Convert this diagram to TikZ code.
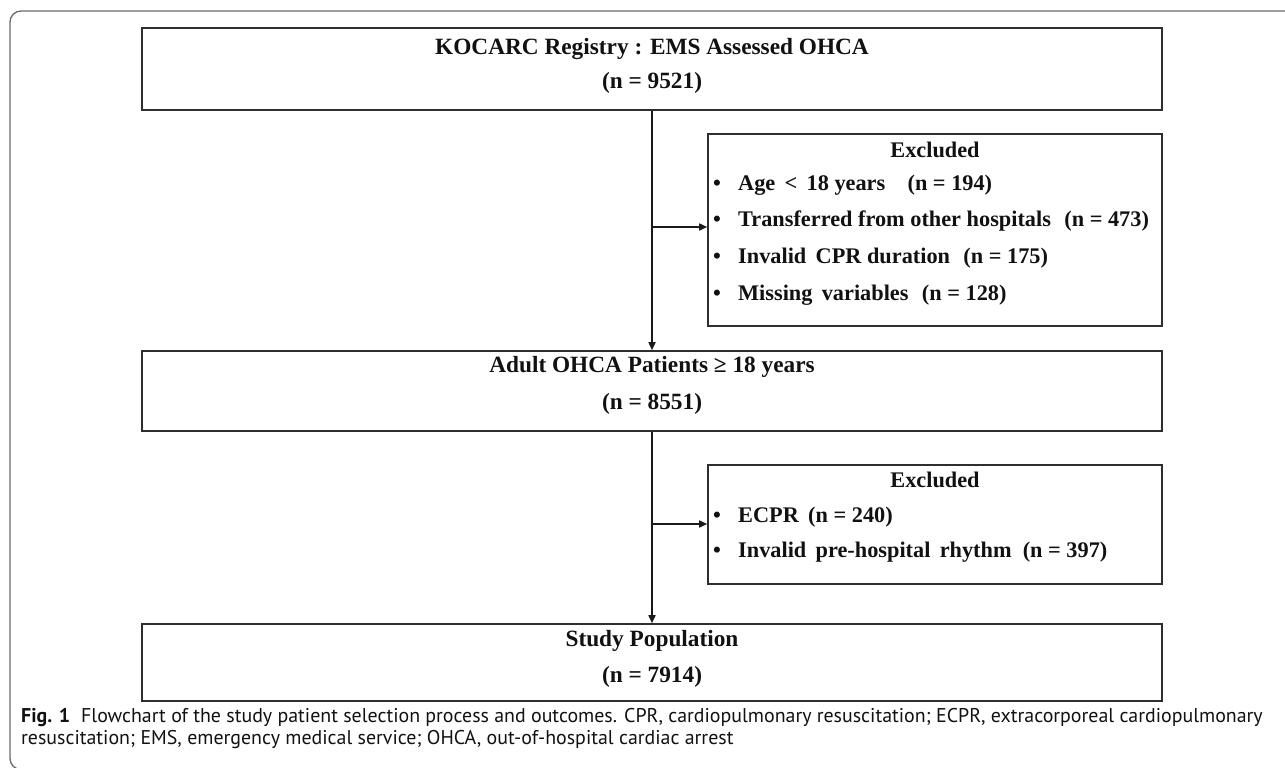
\documentclass[tikz,border=0pt]{standalone}
\usepackage{fontspec}
\setmainfont{Liberation Serif}
\newfontfamily\capfont{PT Sans}
\usetikzlibrary{arrows.meta,calc}
\definecolor{boxc}{HTML}{2E2E2E}
\definecolor{linec}{HTML}{1A1A1A}
\definecolor{txtc}{HTML}{111111}
\definecolor{framec}{HTML}{6A6A6A}
\begin{document}
\begin{tikzpicture}[x=1pt,y=-1pt,
  box/.style={draw=boxc, line width=1.6pt, inner sep=0pt},
  ttl/.style={font=\fontsize{23.3}{27}\selectfont\bfseries, text=txtc, inner sep=0pt},
  exttl/.style={font=\fontsize{22.3}{26}\selectfont\bfseries, text=txtc, inner sep=0pt},
  itm/.style={font=\fontsize{22.3}{26}\selectfont\bfseries, text=txtc, inner sep=0pt, anchor=west},
  conn/.style={line width=1.6pt, draw=linec, -{Triangle[length=8pt,width=7pt]}},
  captxt/.style={font=\capfont\fontsize{19.9}{23}\selectfont, text=txtc, inner sep=0pt, anchor=west},
]
\useasboundingbox (0,0) rectangle (1285,768);
% outer frame
\draw[framec, line width=1.3pt, rounded corners=11pt] (1300,11) -- (10,11) -- (10,769.5) -- (1300,769.5);

% main boxes
\node[box, minimum width=1020pt, minimum height=82pt] (b1) at (652,69) {};
\node[box, minimum width=1020pt, minimum height=80pt] (b2) at (652,391) {};
\node[box, minimum width=1020pt, minimum height=77pt] (b3) at (652,662.5) {};
% exclusion boxes
\node[box, minimum width=454pt, minimum height=192pt] (e1) at (935,230) {};
\node[box, minimum width=454pt, minimum height=119pt] (e2) at (935,524.5) {};

% texts main
\node[ttl] (t1a) at (652,49) {KOCARC Registry : EMS Assessed OHCA};
\node[ttl] (t1b) at (652,83) {(n = 9521)};
\node[ttl] (t2a) at (652,367) {Adult OHCA Patients ≥ 18 years};
\node[ttl] (t2b) at (652,404) {(n = 8551)};
\node[ttl] (t3a) at (652,641) {Study Population};
\node[ttl] (t3b) at (652,677) {(n = 7914)};

% exclusion texts
\node[exttl] (x1) at (935,150) {Excluded};
\node[itm] (x1a) at (713,185) {\makebox[25pt][l]{•}Age \,<\, 18 years\quad (n = 194)};
\node[itm] (x1b) at (713,221) {\makebox[25pt][l]{•}Transferred from other hospitals\hspace{0.6em}(n = 473)};
\node[itm] (x1c) at (713,258) {\makebox[25pt][l]{•}Invalid\, CPR duration\hspace{0.6em}(n = 175)};
\node[itm] (x1d) at (713,295) {\makebox[25pt][l]{•}Missing\, variables\hspace{0.6em}(n = 128)};
\node[exttl] (x2) at (935,480) {Excluded};
\node[itm] (x2a) at (713,517) {\makebox[25pt][l]{•}ECPR\, (n = 240)};
\node[itm] (x2b) at (713,552) {\makebox[25pt][l]{•}Invalid\, pre-hospital\, rhythm\hspace{0.5em}(n = 397)};

% connectors
\coordinate (j1) at (b1.south |- 0,227);
\coordinate (j2) at (b2.south |- 0,524);
\draw[conn] (b1.south) -- (b2.north);
\draw[conn] (j1) -- (j1 -| e1.west);
\draw[conn] (b2.south) -- (b3.north);
\draw[conn] (j2) -- (j2 -| e2.west);

% caption
\node[captxt] (c1) at (21,718) {\textbf{Fig. 1}\hspace{0.55em}Flowchart of the study patient selection process and outcomes. CPR, cardiopulmonary resuscitation; ECPR, extracorporeal cardiopulmonary};
\node[captxt] (c2) at (21,740) {resuscitation; EMS, emergency medical service; OHCA, out-of-hospital cardiac arrest};
\end{tikzpicture}
\end{document}
